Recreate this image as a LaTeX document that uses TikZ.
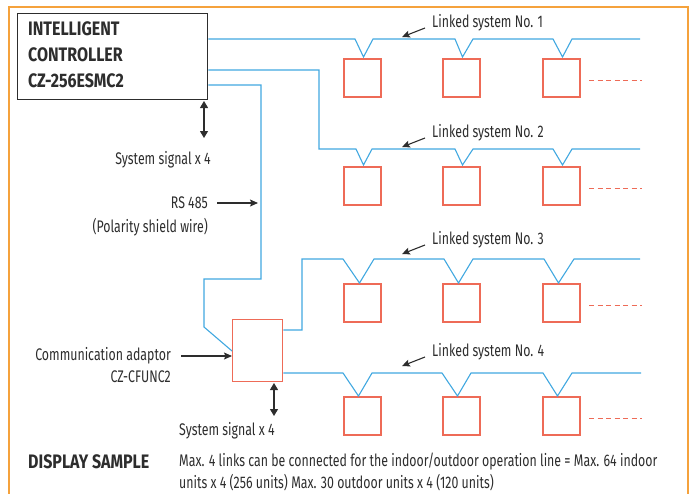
\documentclass[tikz,border=0pt]{standalone}
\usepackage{fontspec}
\setmainfont{Fira Sans}[FakeStretch=0.735,BoldFeatures={FakeStretch=0.82}]
\usetikzlibrary{arrows.meta,calc}
\definecolor{wireblue}{RGB}{65,168,224}
\definecolor{unitred}{RGB}{238,107,87}
\definecolor{frameorange}{RGB}{245,162,60}
\definecolor{ink}{RGB}{45,45,45}
\begin{document}
\begin{tikzpicture}[x=1pt,y=-1pt,
  unitbox/.style={draw=unitred,line width=1.3pt,minimum width=37pt,minimum height=38pt,inner sep=0pt,outer sep=0pt,anchor=north west},
  wire/.style={draw=wireblue,line width=1.1pt},
  txt/.style={text=ink,inner sep=0pt,font=\fontsize{16.8}{19}\selectfont},
  boldtxt/.style={text=ink,inner sep=0pt,font=\fontsize{19.5}{22}\selectfont\bfseries},
  pointer/.style={draw=ink,line width=1.1pt,-{Stealth[length=8pt,width=7pt,inset=1.5pt]}},
  duo/.style={draw=ink,line width=1.1pt,{Triangle[length=7pt,width=8pt]}-{Triangle[length=7pt,width=8pt]}},
  dashred/.style={draw=unitred,line width=1pt,dash pattern=on 5pt off 3.5pt}]
\useasboundingbox (0,0) rectangle (693,493);
% frame
\draw[frameorange,line width=1.5pt] (9,494) -- (9,7) -- (688,7) -- (688,494);
% controller
\node[draw=ink,line width=1.4pt,minimum width=190pt,minimum height=86pt,inner sep=0pt,anchor=north west] (ctrl) at (17,13) {};
\node[boldtxt,anchor=west] (c1) at (28,29) {INTELLIGENT};
\node[boldtxt,anchor=west] (c2) at (28,55) {CONTROLLER};
\node[boldtxt,anchor=west] (c3) at (28,81) {CZ-256ESMC2};
% adaptor
\node[draw=unitred,line width=1.3pt,minimum width=50pt,minimum height=62pt,inner sep=0pt,anchor=north west] (adapt) at (232,319) {};
% units
\foreach \r/\t in {1/59,2/167,3/284,4/397}{
  \foreach \c/\l in {1/344,2/443,3/543}{
    \node[unitbox] (u\r\c) at (\l,\t) {};
  }
  \draw[dashred] ([xshift=9pt,yshift=-2pt]u\r3.east) -- ++(53,0);
}
% wire coordinates
\coordinate (y1) at (0,39);
\coordinate (y2) at (0,70);
\coordinate (y3) at (0,85);
\coordinate (ya) at (0,351);
\coordinate (yb) at (0,330);
\coordinate (yc) at (0,373);
% row 1
\draw[wire] (ctrl.east |- y1) -- (355,39) -- ($(u11.north)+(1,-2)$) -- (373,39)
  -- (455,39) -- ($(u12.north)+(1,-2)$) -- (473,39)
  -- (553,39) -- ($(u13.north)+(1,-2)$) -- (572,39) -- (640,39);
% row 2
\draw[wire] (ctrl.east |- y2) -- (319,70) -- (319,149) -- (356,149) -- ($(u21.north)+(1,-2)$) -- (372,149)
  -- (455,149) -- ($(u22.north)+(1,-2)$) -- (473,149)
  -- (553,149) -- ($(u23.north)+(1,-2)$) -- (572,149) -- (640,149);
% RS485 to adaptor
\draw[wire] (ctrl.east |- y3) -- (261,85) -- (261,279) -- (204,279) -- (204,327) -- (adapt.west |- ya);
% row 3
\draw[wire] (adapt.east |- yb) -- (302,330) -- (302,259) -- (343,259) -- ($(u31.north)+(-3,-1)$) -- (374,259)
  -- (444,259) -- ($(u32.north)+(-3,-1)$) -- (473,259)
  -- (544,259) -- ($(u33.north)+(-3,-1)$) -- (574,259) -- (640,259);
% row 4
\draw[wire] (adapt.east |- yc) -- (343,373) -- ($(u41.north)+(-4,-1)$) -- (372,373)
  -- (442,373) -- ($(u42.north)+(-4,-1)$) -- (471,373)
  -- (543,373) -- ($(u43.north)+(-4,-1)$) -- (572,373) -- (641,373);
% linked system labels
\foreach \n/\y in {1/23,2/133,3/240,4/352}{
  \node[txt,anchor=west] (lk\n) at (432,\y) {Linked system No. \n};
  \draw[pointer] ([xshift=-7pt,yshift=-5pt]lk\n.west) -- ++(-23,9);
}
% controller signal
\coordinate (s1a) at (204,101);
\coordinate (s1b) at (204,138);
\draw[duo] (s1a) -- (s1b);
\node[txt,anchor=east] (sig1) at (211,160) {System signal x 4};
% RS 485
\node[txt,anchor=east] (rs) at (208,203) {RS 485};
\node[txt,anchor=east] (pol) at (208,227) {(Polarity shield wire)};
\coordinate (rsend) at (258,203);
\draw[pointer] ([xshift=9pt]rs.east) -- (rsend);
% adaptor labels
\node[txt,anchor=east] (ca) at (171,356) {Communication adaptor};
\node[txt,anchor=east] (cz) at (171,377) {CZ-CFUNC2};
\draw[pointer] ([xshift=10pt]ca.east) -- (adapt.west |- ca.east);
\coordinate (s2a) at (274,383);
\coordinate (s2b) at (274,416);
\draw[duo] (s2a) -- (s2b);
\node[txt,anchor=west] (sig2) at (179,431) {System signal x 4};
% footer
\node[boldtxt,anchor=west] (disp) at (28,462) {DISPLAY SAMPLE};
\node[txt,anchor=west] (d1) at (179,462) {Max. 4 links can be connected for the indoor/outdoor operation line = Max. 64 indoor};
\node[txt,anchor=west] (d2) at (179,483) {units x 4 (256 units) Max. 30 outdoor units x 4 (120 units)};
\end{tikzpicture}
\end{document}
